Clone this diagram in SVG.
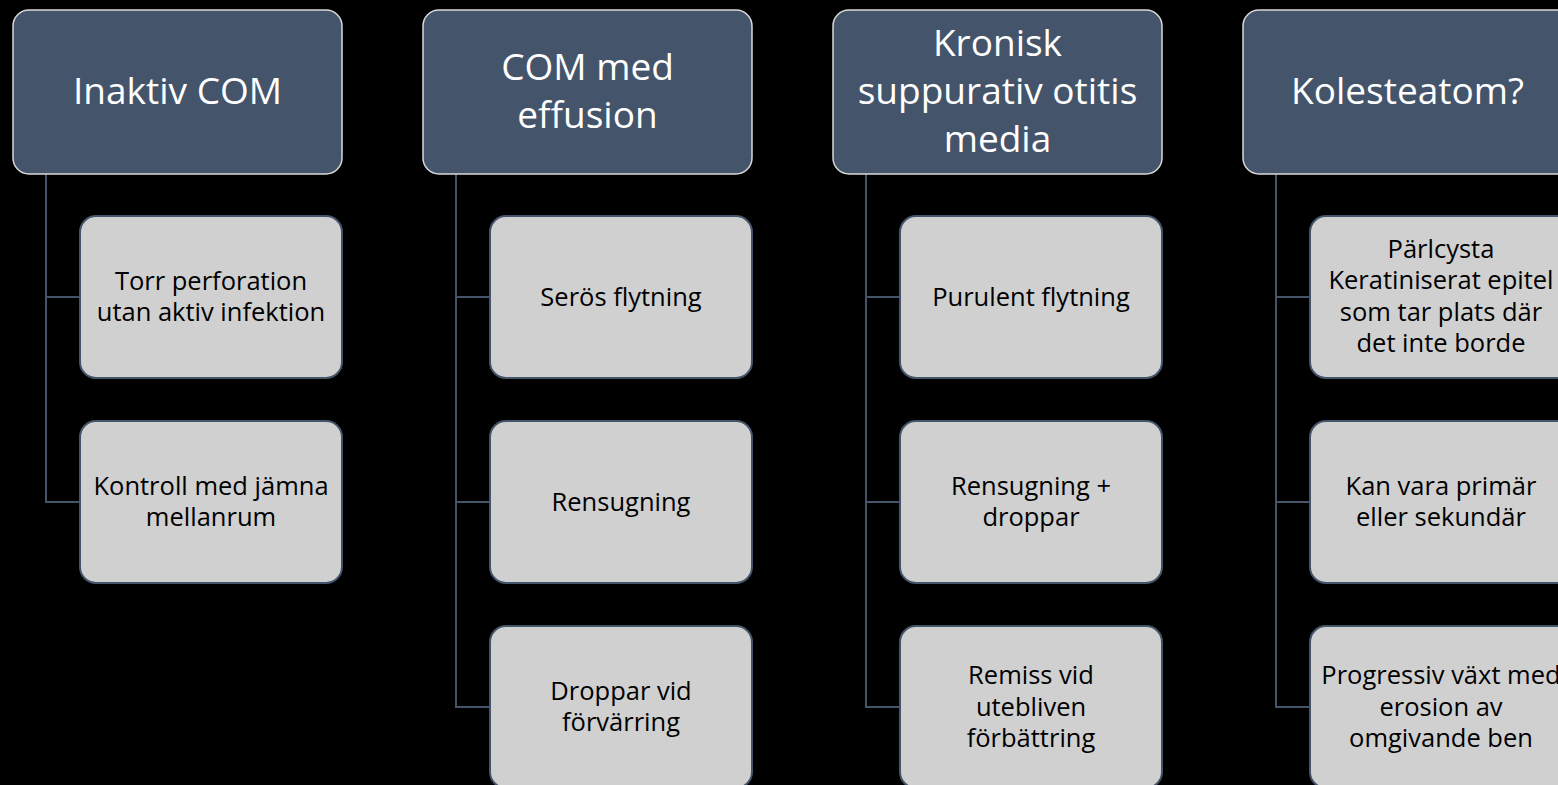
<svg xmlns="http://www.w3.org/2000/svg" width="1558" height="785" viewBox="0 0 1558 785">
<style>
.bg{fill:#000}
.hd{fill:#44546A;stroke:#D9D9D9;stroke-width:1.5}
.ch{fill:#D0D0D0;stroke:#44546A;stroke-width:2}
.conn{fill:none;stroke:#44546A;stroke-width:2}
.ht{font-family:"Open Sans","Liberation Sans",sans-serif;font-size:37px;fill:#FFFFFF;text-anchor:middle}
.ct{font-family:"Open Sans","Liberation Sans",sans-serif;font-size:25.5px;fill:#000000;text-anchor:middle}
</style>
<rect class="bg" x="0" y="0" width="1558" height="785"/>
<g id="connectors">
<path class="conn" d="M46 174 V502 H80 M46 297 H80"/>
<path class="conn" d="M456 174 V707 H490 M456 297 H490 M456 502 H490"/>
<path class="conn" d="M866 174 V707 H900 M866 297 H900 M866 502 H900"/>
<path class="conn" d="M1276 174 V707 H1310 M1276 297 H1310 M1276 502 H1310"/>
</g>
<g id="h1"><rect class="hd" x="13" y="10" width="329" height="164" rx="16"/><text class="ht" x="177.5" y="104">Inaktiv COM</text></g>
<g id="h2"><rect class="hd" x="423" y="10" width="329" height="164" rx="16"/><text class="ht" x="587.5"><tspan x="587.5" y="80">COM med</tspan><tspan x="587.5" y="128">effusion</tspan></text></g>
<g id="h3"><rect class="hd" x="833" y="10" width="329" height="164" rx="16"/><text class="ht" x="997.5"><tspan x="997.5" y="56">Kronisk</tspan><tspan x="997.5" y="104">suppurativ otitis</tspan><tspan x="997.5" y="152">media</tspan></text></g>
<g id="h4"><rect class="hd" x="1243" y="10" width="329" height="164" rx="16"/><text class="ht" x="1407.5" y="104">Kolesteatom?</text></g>

<g id="c1a"><rect class="ch" x="80" y="216" width="262" height="162" rx="16"/><text class="ct"><tspan x="211" y="289.5">Torr perforation</tspan><tspan x="211" y="321">utan aktiv infektion</tspan></text></g>
<g id="c1b"><rect class="ch" x="80" y="421" width="262" height="162" rx="16"/><text class="ct"><tspan x="211" y="494.5">Kontroll med jämna</tspan><tspan x="211" y="526">mellanrum</tspan></text></g>

<g id="c2a"><rect class="ch" x="490" y="216" width="262" height="162" rx="16"/><text class="ct" x="621" y="306">Serös flytning</text></g>
<g id="c2b"><rect class="ch" x="490" y="421" width="262" height="162" rx="16"/><text class="ct" x="621" y="511">Rensugning</text></g>
<g id="c2c"><rect class="ch" x="490" y="626" width="262" height="162" rx="16"/><text class="ct"><tspan x="621" y="699.5">Droppar vid</tspan><tspan x="621" y="731">förvärring</tspan></text></g>

<g id="c3a"><rect class="ch" x="900" y="216" width="262" height="162" rx="16"/><text class="ct" x="1031" y="306">Purulent flytning</text></g>
<g id="c3b"><rect class="ch" x="900" y="421" width="262" height="162" rx="16"/><text class="ct"><tspan x="1031" y="494.5">Rensugning +</tspan><tspan x="1031" y="526">droppar</tspan></text></g>
<g id="c3c"><rect class="ch" x="900" y="626" width="262" height="162" rx="16"/><text class="ct"><tspan x="1031" y="684">Remiss vid</tspan><tspan x="1031" y="715.5">utebliven</tspan><tspan x="1031" y="747">förbättring</tspan></text></g>

<g id="c4a"><rect class="ch" x="1310" y="216" width="262" height="162" rx="16"/><text class="ct"><tspan x="1441" y="257.5">Pärlcysta</tspan><tspan x="1441" y="289">Keratiniserat epitel</tspan><tspan x="1441" y="320.5">som tar plats där</tspan><tspan x="1441" y="352">det inte borde</tspan></text></g>
<g id="c4b"><rect class="ch" x="1310" y="421" width="262" height="162" rx="16"/><text class="ct"><tspan x="1441" y="494.5">Kan vara primär</tspan><tspan x="1441" y="526">eller sekundär</tspan></text></g>
<g id="c4c"><rect class="ch" x="1310" y="626" width="262" height="162" rx="16"/><text class="ct"><tspan x="1441" y="684">Progressiv växt med</tspan><tspan x="1441" y="715.5">erosion av</tspan><tspan x="1441" y="747">omgivande ben</tspan></text></g>
</svg>
